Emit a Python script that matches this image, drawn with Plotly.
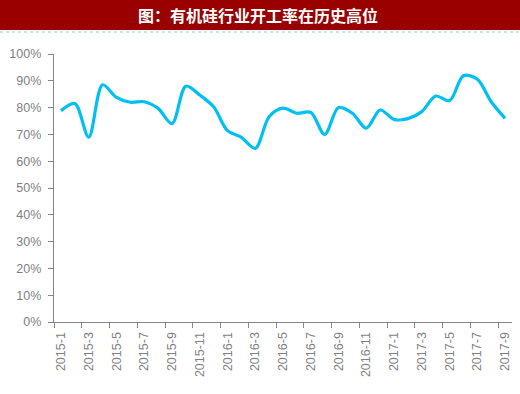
import plotly.graph_objects as go

months = ["2015-1","2015-2","2015-3","2015-4","2015-5","2015-6","2015-7","2015-8","2015-9","2015-10","2015-11","2015-12",
          "2016-1","2016-2","2016-3","2016-4","2016-5","2016-6","2016-7","2016-8","2016-9","2016-10","2016-11","2016-12",
          "2017-1","2017-2","2017-3","2017-4","2017-5","2017-6","2017-7","2017-8","2017-9"]
rate = [78.8, 81.5, 69.0, 88.5, 83.8, 82.0, 82.2, 79.7, 74.0, 88.0, 84.7, 80.3,
        71.4, 68.9, 64.8, 76.6, 79.8, 77.9, 78.2, 70.0, 80.0, 77.9, 72.3, 79.1,
        75.6, 75.9, 78.5, 84.3, 82.6, 91.9, 90.6, 82.2, 76.0]
y_ticks = [0, 10, 20, 30, 40, 50, 60, 70, 80, 90, 100]
title_text = "图：有机硅行业开工率在历史高位"

W, H = 520, 394
L, R, T, B = 54, 8, 54, 72
pw, ph = W - L - R, H - T - B

x_idx = list(range(len(months)))
label_idx = x_idx[::2]

fig = go.Figure()
fig.add_trace(go.Scatter(
    x=x_idx, y=rate, mode="lines",
    line=dict(color="#00bff3", width=3.2, shape="spline", smoothing=0.9),
    hoverinfo="skip", showlegend=False,
))

fig.update_layout(
    width=W, height=H,
    margin=dict(l=L, r=R, t=T, b=B),
    paper_bgcolor="white", plot_bgcolor="white",
    font=dict(family="Liberation Sans, Noto Sans, sans-serif", color="#7f7f7f", size=12),
    xaxis=dict(
        range=[-0.5, len(months) - 0.5],
        tickmode="array", tickvals=label_idx, ticktext=[months[i] for i in label_idx],
        tickangle=-90, ticks="", showgrid=False, zeroline=False,
        showline=True, linecolor="#868686", linewidth=1.3,
        tickfont=dict(size=12.5, color="#7f7f7f"),
        ticklabelstandoff=4,
        minor=dict(ticks="outside", tick0=-0.5, dtick=2, ticklen=5, tickcolor="#868686", tickwidth=1.3, showgrid=False),
    ),
    yaxis=dict(
        range=[0, 100], tickmode="array", tickvals=y_ticks,
        ticktext=[f"{v}%" for v in y_ticks],
        ticks="outside", ticklen=5, tickcolor="#868686", tickwidth=1.3,
        showgrid=False, zeroline=False,
        showline=True, linecolor="#868686", linewidth=1.3,
        tickfont=dict(size=12.5, color="#7f7f7f"),
        ticklabelstandoff=4,
    ),
    shapes=[
        dict(type="rect", xref="paper", yref="paper",
             x0=-L / pw, x1=1 + R / pw, y0=1 + (T - 30) / ph, y1=1 + T / ph,
             fillcolor="#990000", line=dict(width=0), layer="below"),
        dict(type="line", xref="paper", yref="paper",
             x0=-L / pw, x1=1 + R / pw, y0=1 + (T - 32) / ph, y1=1 + (T - 32) / ph,
             line=dict(color="#9dc3e6", width=1, dash="dot")),
    ],
    annotations=[
        dict(text=f"<b>{title_text}</b>", xref="paper", yref="paper",
             x=(W / 2 - 2 - L) / pw, y=1 + (T - 15) / ph, xanchor="center", yanchor="middle",
             showarrow=False,
             font=dict(family="Noto Sans CJK SC", size=16, color="white")),
    ],
)

fig.write_html("out.html", config={"displayModeBar": False},
               post_script="document.body.style.margin='0';document.body.style.overflow='hidden';")
